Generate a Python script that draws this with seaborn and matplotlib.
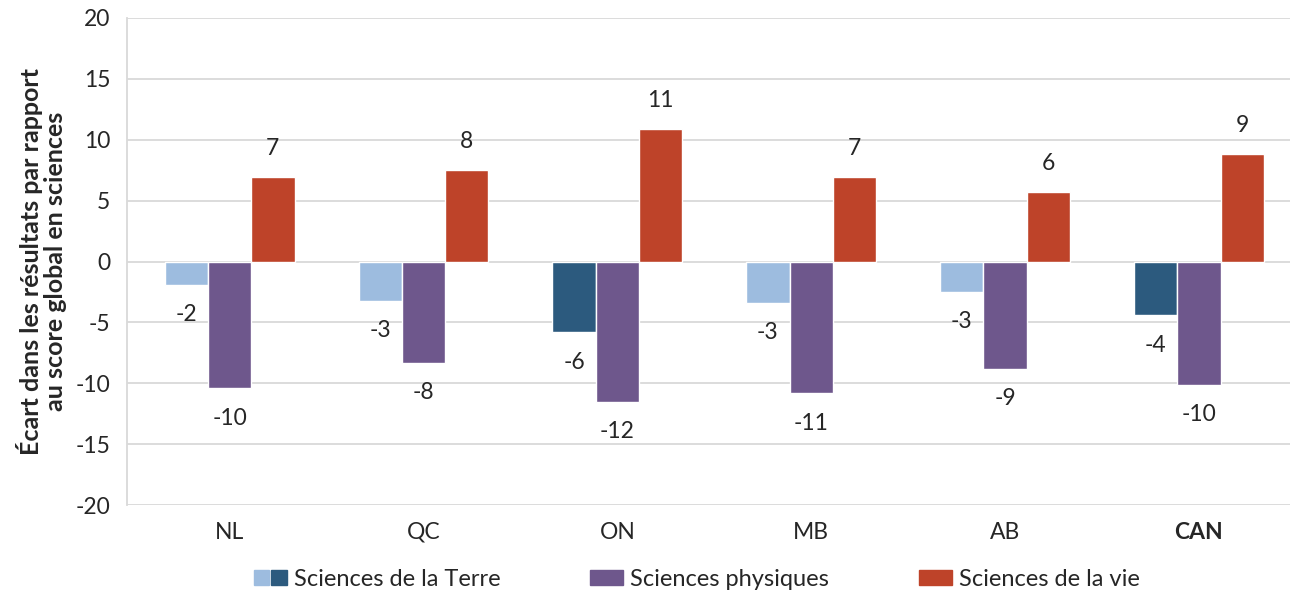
import numpy as np
import pandas as pd
import seaborn as sns
import matplotlib.pyplot as plt
from matplotlib.patches import Patch
from matplotlib.legend_handler import HandlerTuple

# Data
provinces = ['NL', 'QC', 'ON', 'MB', 'AB', 'CAN']
series = ['Sciences de la Terre', 'Sciences physiques', 'Sciences de la vie']
terre = [-1.9, -3.2, -5.8, -3.4, -2.5, -4.4]
physiques = [-10.4, -8.3, -11.5, -10.8, -8.8, -10.1]
vie = [6.9, 7.5, 10.9, 6.9, 5.7, 8.8]
terre_labels = ['-2', '-3', '-6', '-3', '-3', '-4']
physiques_labels = ['-10', '-8', '-12', '-11', '-9', '-10']
vie_labels = ['7', '8', '11', '7', '6', '9']
terre_significant = [False, False, True, False, False, True]

light_blue = '#9DBCDF'
dark_blue = '#2C5A7E'
purple = '#6E578C'
red = '#BE4329'

sns.set_style('white')
plt.rcParams['font.family'] = ['Lato', 'DejaVu Sans']
plt.rcParams['axes.unicode_minus'] = False

df = pd.DataFrame({
    'prov': provinces * 3,
    'serie': [s for s in series for _ in provinces],
    'val': terre + physiques + vie,
})

fig, ax = plt.subplots(figsize=(12.94, 5.93), dpi=100)
sns.barplot(data=df, x='prov', y='val', hue='serie', hue_order=series,
            palette=[light_blue, purple, red], width=0.67, ax=ax,
            legend=False, saturation=1)

# recolour the significant Earth-science bars
terre_bars = ax.containers[0]
for bar, sig in zip(terre_bars, terre_significant):
    bar.set_facecolor(dark_blue if sig else light_blue)

label_sets = [terre_labels, physiques_labels, vie_labels]
for cont, labels in zip(ax.containers, label_sets):
    for bar, lab in zip(cont, labels):
        h = bar.get_height()
        x = bar.get_x() + bar.get_width() / 2
        if h < 0:
            ax.annotate(lab, (x, h), xytext=(0, -14), textcoords='offset points',
                        ha='center', va='top', fontsize=16.5)
        else:
            ax.annotate(lab, (x, h), xytext=(0, 13), textcoords='offset points',
                        ha='center', va='bottom', fontsize=16.5)

ax.set_ylim(-20, 20)
ax.set_yticks(np.arange(-20, 21, 5))
ax.set_xlim(-0.53, 5.47)
ax.yaxis.grid(True, color='#D9D9D9', linewidth=1.3)
ax.set_axisbelow(True)
for s in ['top', 'right', 'bottom']:
    ax.spines[s].set_visible(False)
ax.spines['left'].set_color('#D9D9D9')
ax.spines['left'].set_linewidth(1.3)
ax.tick_params(axis='y', length=6, color='#D9D9D9', labelsize=16.5, pad=6)
ax.tick_params(axis='x', length=0, labelsize=16.5, pad=12)
ax.set_xlabel('')
ax.set_ylabel('Écart dans les résultats par rapport\nau score global en sciences',
              fontsize=18, fontweight='bold', labelpad=6, linespacing=1.05)
ax.get_xticklabels()[-1].set_fontweight('bold')

handles = [(Patch(color=light_blue), Patch(color=dark_blue)),
           Patch(color=purple), Patch(color=red)]
ax.legend(handles, series, handler_map={tuple: HandlerTuple(ndivide=None, pad=0.1)},
          loc='center', bbox_to_anchor=(0.49, -0.152), ncol=3, frameon=False,
          fontsize=17, handlelength=1.4, handleheight=0.65, columnspacing=3.8,
          handletextpad=0.3, borderaxespad=0, borderpad=0)

plt.subplots_adjust(left=0.098, right=0.997, top=0.97, bottom=0.148)
plt.savefig('out.png', dpi=100)
